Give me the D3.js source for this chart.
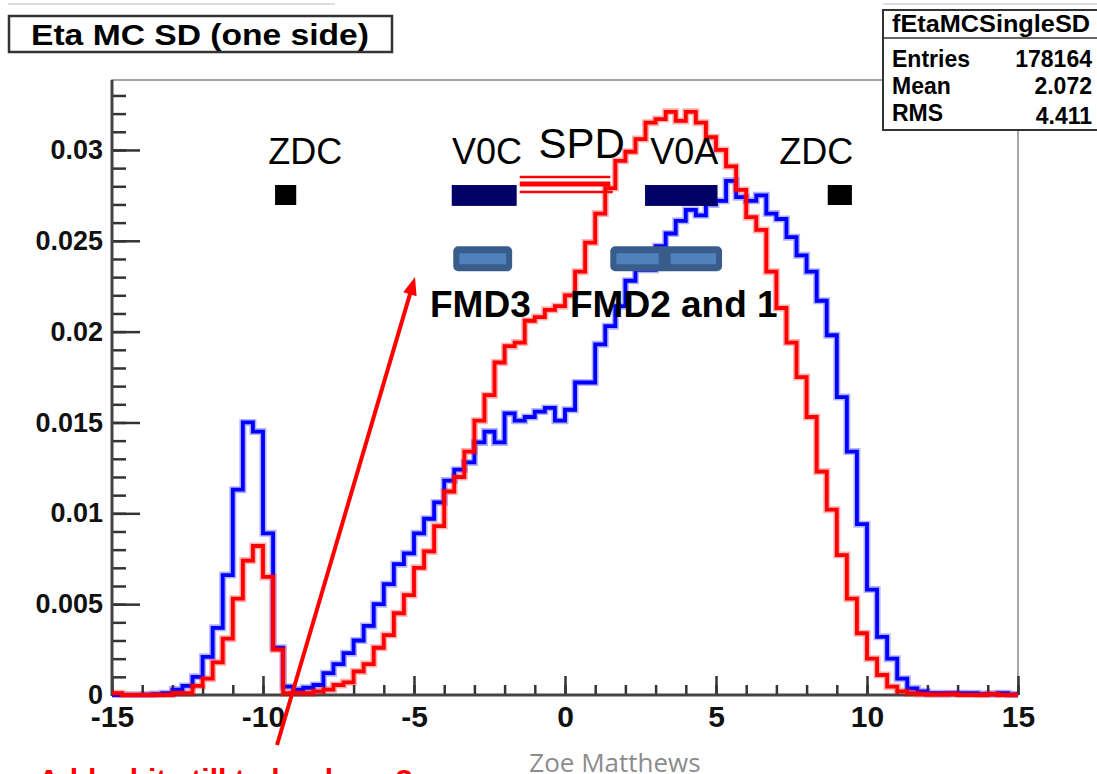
<!DOCTYPE html>
<html>
<head>
<meta charset="utf-8">
<title>Eta MC SD (one side)</title>
<script src="https://d3js.org/d3.v7.min.js"></script>
<style>
  body { margin: 0; background: #fff; }
  text { font-family: "Liberation Sans", Arial, sans-serif; }
</style>
</head>
<body>
<script>
  // histogram: 90 bins between -15 and 15
  var etaRange = [-15, 15];
  var nBins = 90;

  // red histogram (bin contents)
  var redValues = [
    0.0001, 0, 0, 0, 0, 0, 0.0001, 0.0001, 0.0005, 0.0009,
    0.0018, 0.0031, 0.0053, 0.0074, 0.0082, 0.0065, 0.0025, 0.0001, 0.0001, 0.0001,
    0.0002, 0.0003, 0.00055, 0.0007, 0.0013, 0.0017, 0.0026, 0.0033, 0.0045, 0.0055,
    0.0070, 0.0079, 0.0093, 0.0112, 0.0120, 0.0134, 0.0151, 0.0165, 0.0183, 0.0192,
    0.0194, 0.0206, 0.0208, 0.0212, 0.0214, 0.0220, 0.0233, 0.0249, 0.0265, 0.0279,
    0.0294, 0.0299, 0.0306, 0.0315, 0.0317, 0.0321, 0.0316, 0.0321, 0.0315, 0.0307,
    0.0300, 0.0291, 0.0278, 0.0263, 0.0256, 0.0233, 0.0213, 0.0194, 0.0175, 0.0153,
    0.0123, 0.0102, 0.0077, 0.0053, 0.0034, 0.0020, 0.0011, 0.00046, 0.0002, 0.0001,
    0.00005, 0.00003, 0.00003, 0.00005, 0, 0, 0, 0.00005, 0, 0
  ];

  // blue histogram
  var blueValues = [
    0, 0, 0, 0.00002, 0.00005, 0.0001, 0.0003, 0.0005, 0.0010, 0.0021,
    0.0037, 0.0066, 0.0113, 0.0150, 0.0145, 0.0089, 0.0026, 0.00046, 0.0003, 0.0004,
    0.00055, 0.0012, 0.0017, 0.0023, 0.0030, 0.0038, 0.0050, 0.0061, 0.0072, 0.0078,
    0.0089, 0.0097, 0.0106, 0.0118, 0.0124, 0.0128, 0.0139, 0.0145, 0.0139, 0.0155,
    0.0151, 0.0153, 0.0156, 0.0158, 0.0151, 0.0157, 0.0172, 0.0172, 0.0193, 0.0203,
    0.0214, 0.0228, 0.0234, 0.0234, 0.0247, 0.0254, 0.0261, 0.0267, 0.0264, 0.0270,
    0.0272, 0.0283, 0.0274, 0.0272, 0.0275, 0.0265, 0.0262, 0.0252, 0.0242, 0.0233,
    0.0217, 0.0198, 0.0164, 0.0134, 0.0094, 0.0058, 0.0032, 0.0020, 0.0009, 0.00037,
    0.0002, 0.0001, 0.0001, 0.0001, 0.0001, 0.0001, 0.00005, 0.00005, 0.0001, 0.00003
  ];

  var xTicks = [-15, -10, -5, 0, 5, 10, 15];
  var xTickLabels = ["-15", "-10", "-5", "0", "5", "10", "15"];
  var yTicks = [0, 0.005, 0.01, 0.015, 0.02, 0.025, 0.03];
  var yTickLabels = ["0", "0.005", "0.01", "0.015", "0.02", "0.025", "0.03"];

  var statsTitle = "fEtaMCSingleSD";
  var statsNames = ["Entries", "Mean", "RMS"];
  var statsValues = ["178164", "2.072", "4.411"];

  // detector coverage drawn on the slide (eta ranges)
  var zdcBoxes = [[-9.6, -8.9], [8.7, 9.5]];
  var v0Bars = [[-3.75, -1.6], [2.65, 5.05]];
  var spdRange = [-1.5, 1.5];
  var fmdBars = [[-3.7, -1.75], [1.5, 3.3], [3.3, 5.2]];
  var detNames = [
    {name: "ZDC", eta: -8.6}, {name: "V0C", eta: -2.58},
    {name: "V0A", eta: 3.95}, {name: "ZDC", eta: 8.32}
  ];

  var W = 1097, H = 774;
  var fLeft = 112, fRight = 1018, fTop = 80, fBottom = 695;

  var svg = d3.select("body").append("svg")
    .attr("width", W).attr("height", H);

  var x = d3.scaleLinear().domain(etaRange).range([fLeft, fRight]);
  var y = d3.scaleLinear().domain([0, 0.03385]).range([fBottom, fTop]);

  var binW = (etaRange[1] - etaRange[0]) / nBins;

  // slide artefact lines at the very top
  svg.append("line").attr("x1", 8).attr("x2", 335).attr("y1", 4).attr("y2", 4)
    .attr("stroke", "#bbb").attr("stroke-width", 1);
  svg.append("line").attr("x1", 883).attr("x2", W).attr("y1", 4).attr("y2", 4)
    .attr("stroke", "#bbb").attr("stroke-width", 1);

  // frame
  svg.append("rect")
    .attr("x", fLeft).attr("y", fTop)
    .attr("width", fRight - fLeft).attr("height", fBottom - fTop)
    .attr("fill", "none").attr("stroke", "#888").attr("stroke-width", 1.5);

  // minor + major ticks
  var yMinor = d3.range(0, 0.0335, 0.001);
  var xMinor = d3.range(-15, 15.5, 1);

  svg.append("g").attr("transform", "translate(" + fLeft + ",0)")
    .call(d3.axisLeft(y).tickValues(yMinor).tickSizeInner(-14).tickSizeOuter(0).tickFormat(""))
    .call(g => g.select(".domain").remove())
    .call(g => g.selectAll("line").attr("stroke", "#333").attr("stroke-width", 2.5));

  svg.append("g").attr("transform", "translate(" + fLeft + ",0)")
    .call(d3.axisLeft(y).tickValues(yTicks).tickSizeInner(-28).tickSizeOuter(0).tickPadding(9)
      .tickFormat((d, i) => yTickLabels[i]))
    .call(g => g.select(".domain").remove())
    .call(g => g.selectAll("line").attr("stroke", "#333").attr("stroke-width", 2.5))
    .call(g => g.selectAll("text").attr("fill", "#111")
      .style("font-size", "27px").style("font-weight", "bold")
      .style("font-family", "'Liberation Sans', Arial, sans-serif"));

  svg.append("g").attr("transform", "translate(0," + fBottom + ")")
    .call(d3.axisBottom(x).tickValues(xMinor).tickSizeInner(-10).tickSizeOuter(0).tickFormat(""))
    .call(g => g.select(".domain").remove())
    .call(g => g.selectAll("line").attr("stroke", "#333").attr("stroke-width", 2.5));

  svg.append("g").attr("transform", "translate(0," + fBottom + ")")
    .call(d3.axisBottom(x).tickValues(xTicks).tickSizeInner(-19).tickSizeOuter(0).tickPadding(11)
      .tickFormat((d, i) => xTickLabels[i]))
    .call(g => g.select(".domain").remove())
    .call(g => g.selectAll("line").attr("stroke", "#333").attr("stroke-width", 2.5))
    .call(g => g.selectAll("text").attr("fill", "#111")
      .style("font-size", "30px").style("font-weight", "bold")
      .style("font-family", "'Liberation Sans', Arial, sans-serif"));

  // axis lines
  svg.append("line").attr("x1", fLeft).attr("x2", fLeft).attr("y1", fTop).attr("y2", fBottom + 1)
    .attr("stroke", "#444").attr("stroke-width", 3);
  svg.append("line").attr("x1", fLeft).attr("x2", fRight).attr("y1", fBottom).attr("y2", fBottom)
    .attr("stroke", "#444").attr("stroke-width", 3);

  // histograms
  svg.append("clipPath").attr("id", "frameclip").append("rect")
    .attr("x", fLeft - 2).attr("y", fTop).attr("width", fRight - fLeft + 4).attr("height", fBottom - fTop + 3);

  function histPoints(vals) {
    var pts = vals.map((v, i) => [etaRange[0] + i * binW, v]);
    pts.push([etaRange[1], vals[vals.length - 1]]);
    return pts;
  }
  var stepLine = d3.line()
    .x(d => x(d[0])).y(d => y(d[1]))
    .curve(d3.curveStepAfter);

  var hg = svg.append("g").attr("clip-path", "url(#frameclip)");
  [[blueValues, "#0000ff"], [redValues, "#ff0000"]].forEach(function (s) {
    hg.append("path").attr("d", stepLine(histPoints(s[0])))
      .attr("fill", "none").attr("stroke", s[1]).attr("stroke-opacity", 0.3)
      .attr("stroke-width", 7);
    hg.append("path").attr("d", stepLine(histPoints(s[0])))
      .attr("fill", "none").attr("stroke", s[1]).attr("stroke-width", 3.8);
  });

  // title box
  svg.append("rect").attr("x", 9).attr("y", 16).attr("width", 383).attr("height", 36)
    .attr("fill", "#fff").attr("stroke", "#333").attr("stroke-width", 2.5);
  svg.append("text").attr("x", 31).attr("y", 45)
    .attr("textLength", 338).attr("lengthAdjust", "spacingAndGlyphs")
    .style("font-size", "29px").style("font-weight", "bold")
    .text("Eta MC SD (one side)");

  // stats box
  var sb = svg.append("g");
  sb.append("rect").attr("x", 883).attr("y", 10).attr("width", 230).attr("height", 120)
    .attr("fill", "#fff").attr("stroke", "#333").attr("stroke-width", 2);
  sb.append("line").attr("x1", 883).attr("x2", W).attr("y1", 38).attr("y2", 38)
    .attr("stroke", "#333").attr("stroke-width", 1.5);
  sb.append("text").attr("x", 892).attr("y", 32)
    .attr("textLength", 198).attr("lengthAdjust", "spacingAndGlyphs")
    .style("font-size", "23px").style("font-weight", "bold").text(statsTitle);
  statsNames.forEach(function (n, i) {
    var by = 67 + i * 27;
    sb.append("text").attr("x", 892).attr("y", by)
      .style("font-size", "23px").style("font-weight", "bold").text(n);
    sb.append("text").attr("x", 1092).attr("y", by + (i == 2 ? 3 : 0)).attr("text-anchor", "end")
      .style("font-size", "23px").style("font-weight", "bold").text(statsValues[i]);
  });

  // detector overlays
  var ov = svg.append("g");
  zdcBoxes.forEach(function (r) {
    ov.append("rect").attr("x", x(r[0])).attr("y", y(0.02807))
      .attr("width", x(r[1]) - x(r[0])).attr("height", y(0.02697) - y(0.02807))
      .attr("fill", "#000");
  });
  v0Bars.forEach(function (r) {
    ov.append("rect").attr("x", x(r[0])).attr("y", y(0.02807))
      .attr("width", x(r[1]) - x(r[0])).attr("height", y(0.02692) - y(0.02807))
      .attr("fill", "#000066");
  });
  // SPD: three red lines
  [[0.02851, 2.5, 0], [0.02813, 5, 0], [0.02769, 2.5, 0.08]].forEach(function (l) {
    ov.append("line").attr("x1", x(spdRange[0])).attr("x2", x(spdRange[1] + l[2]))
      .attr("y1", y(l[0])).attr("y2", y(l[0]))
      .attr("stroke", "#ff0000").attr("stroke-width", l[1]);
  });
  fmdBars.forEach(function (r, i) {
    var x0 = x(r[0]), x1 = x(r[1]);
    if (i == 0 || i == 1) {
      var xe = i == 0 ? x1 : x(fmdBars[2][1]);
      ov.append("rect").attr("x", x0).attr("y", y(0.0247))
        .attr("width", xe - x0).attr("height", y(0.02332) - y(0.0247))
        .attr("rx", 5).attr("fill", "#385d8a");
    }
    ov.append("rect").attr("x", x0 + 6).attr("y", y(0.0247) + 7)
      .attr("width", x1 - x0 - 12).attr("height", y(0.02332) - y(0.0247) - 14)
      .attr("fill", "#4f81bd");
  });

  detNames.forEach(function (d) {
    ov.append("text").attr("x", x(d.eta)).attr("y", 164).attr("text-anchor", "middle")
      .style("font-size", "36px").text(d.name);
  });
  ov.append("text").attr("x", x(0.55)).attr("y", 158).attr("text-anchor", "middle")
    .style("font-size", "42px").text("SPD");
  ov.append("text").attr("x", 430).attr("y", 317)
    .style("font-size", "37px").style("font-weight", "bold").text("FMD3");
  ov.append("text").attr("x", 570).attr("y", 317)
    .style("font-size", "37px").style("font-weight", "bold").text("FMD2 and 1");

  // red arrow
  var ax0 = 277, ay0 = 745, ax1 = 415, ay1 = 277;
  var ang = Math.atan2(ay1 - ay0, ax1 - ax0);
  var hl = 18, hw = 7;
  ov.append("line").attr("x1", ax0).attr("y1", ay0)
    .attr("x2", ax1 - Math.cos(ang) * hl * 0.8).attr("y2", ay1 - Math.sin(ang) * hl * 0.8)
    .attr("stroke", "#ff0000").attr("stroke-width", 4);
  var bx = ax1 - Math.cos(ang) * hl, by2 = ay1 - Math.sin(ang) * hl;
  ov.append("polygon")
    .attr("points", [
      [ax1, ay1],
      [bx - Math.sin(ang) * hw, by2 + Math.cos(ang) * hw],
      [bx + Math.sin(ang) * hw, by2 - Math.cos(ang) * hw]
    ].map(p => p.join(",")).join(" "))
    .attr("fill", "#ff0000");

  // footer texts
  svg.append("text").attr("x", 615).attr("y", 772).attr("text-anchor", "middle")
    .attr("fill", "#8c8c8c").style("font-family", "'Open Sans', sans-serif")
    .style("font-size", "26px").text("Zoe Matthews");
  svg.append("text").attr("x", 38).attr("y", 790).attr("fill", "#ff0000")
    .style("font-size", "30px").style("font-weight", "bold")
    .text("Add a bit still to be done ?");
</script>
</body>
</html>
